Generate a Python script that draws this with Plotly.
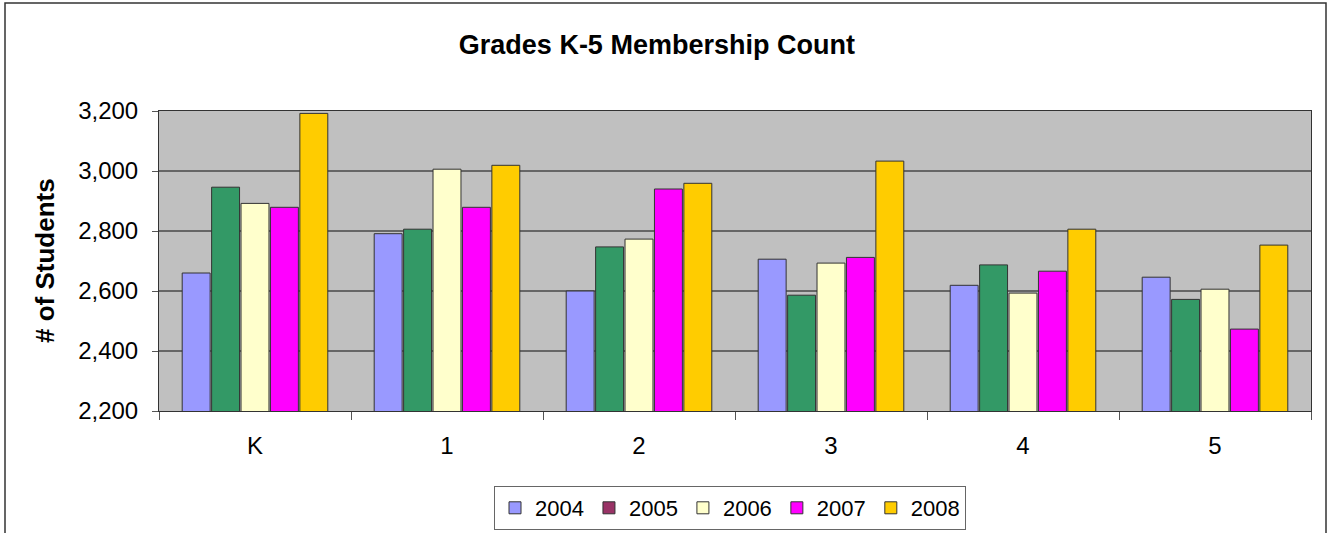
import plotly.graph_objects as go

grades = ["K", "1", "2", "3", "4", "5"]
years = ["2004", "2005", "2006", "2007", "2008"]
v2004 = [2660, 2791, 2600, 2706, 2619, 2646]
v2005 = [2946, 2806, 2747, 2586, 2687, 2572]
v2006 = [2892, 3006, 2773, 2693, 2593, 2606]
v2007 = [2879, 2879, 2940, 2712, 2666, 2473]
v2008 = [3192, 3019, 2959, 3033, 2806, 2753]
bar_colors = ["#9999FF", "#339966", "#FFFFCC", "#FF00FF", "#FFCC00"]
legend_colors = ["#9999FF", "#993366", "#FFFFCC", "#FF00FF", "#FFCC00"]
y_ticks = [2200, 2400, 2600, 2800, 3000, 3200]

series = [v2004, v2005, v2006, v2007, v2008]
FONT = "Liberation Sans, Arial, sans-serif"

W, H = 1327, 533
ML, MR, MT, MB = 159, 16, 111, 122
PW, PH = W - ML - MR, H - MT - MB

fig = go.Figure()
for i, (yr, vals) in enumerate(zip(years, series)):
    same = bar_colors[i] == legend_colors[i]
    fig.add_trace(go.Bar(
        x=grades, y=vals, name=yr,
        marker=dict(color=bar_colors[i], line=dict(color="#333333", width=1)),
        offsetgroup=yr, showlegend=same, legendrank=i + 1,
    ))
    if not same:
        fig.add_trace(go.Bar(
            x=grades, y=[None] * len(grades), name=yr,
            marker=dict(color=legend_colors[i], line=dict(color="#333333", width=1)),
            offsetgroup=yr, showlegend=True, legendrank=i + 1, hoverinfo="skip",
        ))

fig.update_layout(
    width=W, height=H,
    margin=dict(l=ML, r=MR, t=MT, b=MB, autoexpand=False),
    paper_bgcolor="white", plot_bgcolor="#C0C0C0",
    barmode="group", bargap=0.234, bargroupgap=0.05,
    font=dict(family=FONT, color="black"),
    title=dict(text="<b>Grades K-5 Membership Count</b>", x=0.495, xref="container",
               y=1 - 45 / H, yref="container", xanchor="center", yanchor="middle",
               font=dict(size=27, family=FONT)),
    legend=dict(orientation="h", x=(730 - ML) / PW, xanchor="center",
                y=(MT + PH - 486) / PH, yanchor="top",
                bordercolor="#666666", borderwidth=1, bgcolor="white",
                font=dict(size=22, family=FONT), traceorder="normal",
                itemwidth=30, tracegroupgap=0),
    showlegend=True,
)
fig.update_xaxes(
    type="category", tickson="boundaries", ticks="outside", ticklen=8,
    tickcolor="#555555", showline=True, linecolor="#333333", linewidth=1, mirror=True,
    tickfont=dict(size=24, family=FONT), ticklabelstandoff=13, showgrid=False,
)
fig.update_yaxes(
    range=[2200, 3200], tickvals=y_ticks, tickformat=",d",
    ticks="outside", ticklen=6, tickcolor="#555555",
    showline=True, linecolor="#333333", linewidth=1, mirror=True,
    gridcolor="#666666", gridwidth=1.5,
    tickfont=dict(size=24, family=FONT), ticklabelstandoff=9, zeroline=False,
)
fig.add_annotation(
    text="<b># of Students</b>", textangle=-90, xref="paper", yref="paper",
    x=(45 - ML) / PW, y=0.5, xanchor="center", yanchor="middle", showarrow=False,
    font=dict(size=26, family=FONT),
)
fig.add_shape(
    type="rect", xref="paper", yref="paper",
    x0=(5 - ML) / PW, x1=(1326 - ML) / PW, y0=(MT + PH - 560) / PH, y1=(MT + PH - 3) / PH,
    line=dict(color="#333333", width=1.5), fillcolor="rgba(0,0,0,0)", layer="below",
)
fig.write_html("out.html", config={"displayModeBar": False},
               post_script="document.body.style.margin='0';")
